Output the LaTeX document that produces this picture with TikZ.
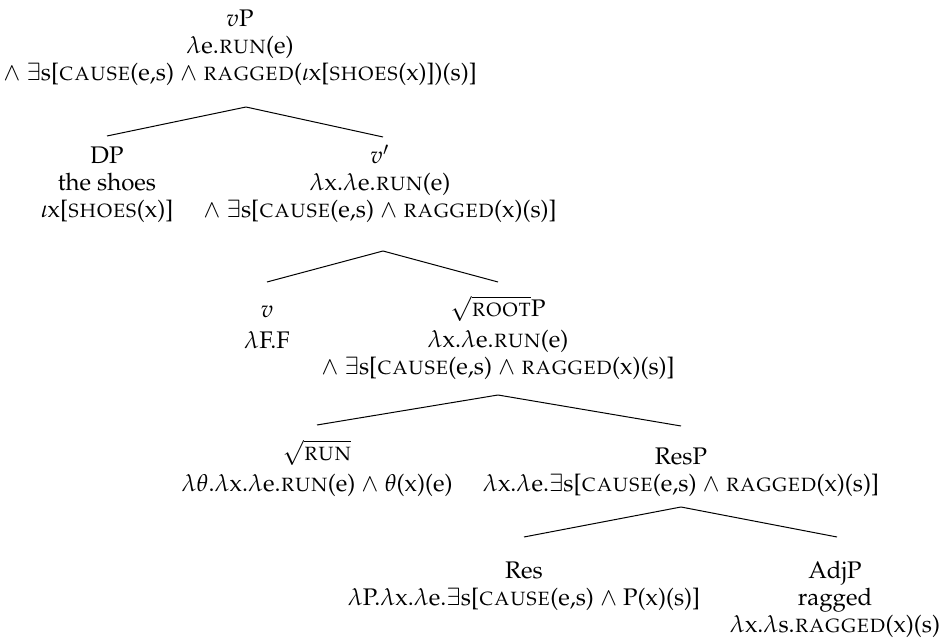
\documentclass[tikz,border=0pt]{standalone}
\usepackage[T1]{fontenc}
\usepackage{mathpazo}
\usetikzlibrary{calc}
\begin{document}
\begin{tikzpicture}[x=0.5pt,y=-0.5pt,
  lab/.style={inner sep=0pt,outer sep=0pt,align=center,anchor=base,
    font=\fontsize{12pt}{13.5pt}\selectfont},
  branch/.style={line width=0.5pt}]
\useasboundingbox (0,0) rectangle (944,640);
% nodes (anchored at the baseline of their last line)
\node[lab] (vP) at (240,81) {$v$P\\ $\lambda$e.\textsc{run}(e)\\ $\wedge$ $\exists$s[\textsc{cause}(e,s) $\wedge$ \textsc{ragged}($\iota$x[\textsc{shoes}(x)])(s)]};
\node[lab] (DP) at (107,218) {DP\\ the shoes\\ $\iota$x[\textsc{shoes}(x)]};
\node[lab] (vbar) at (380,218) {$v'$\\ $\lambda$x.$\lambda$e.\textsc{run}(e)\\ $\wedge$ $\exists$s[\textsc{cause}(e,s) $\wedge$ \textsc{ragged}(x)(s)]};
\node[lab] (v) at (267,349) {$v$\\[2pt] $\lambda$F.F};
\node[lab] (rootP) at (498,375) {$\sqrt{\textsc{root}}$P\\[2pt] $\lambda$x.$\lambda$e.\textsc{run}(e)\\ $\wedge$ $\exists$s[\textsc{cause}(e,s) $\wedge$ \textsc{ragged}(x)(s)]};
\node[lab] (run) at (317,492) {$\sqrt{\textsc{run}}$\\[2pt] $\lambda\theta$.$\lambda$x.$\lambda$e.\textsc{run}(e) $\wedge$ $\theta$(x)(e)};
\node[lab] (ResP) at (681,492) {ResP\\ $\lambda$x.$\lambda$e.$\exists$s[\textsc{cause}(e,s) $\wedge$ \textsc{ragged}(x)(s)]};
\node[lab] (Res) at (524,606) {Res\\ $\lambda$P.$\lambda$x.$\lambda$e.$\exists$s[\textsc{cause}(e,s) $\wedge$ P(x)(s)]};
\node[lab] (AdjP) at (835,633) {AdjP\\ ragged\\ $\lambda$x.$\lambda$s.\textsc{ragged}(x)(s)};
% branches
\draw[branch] ([xshift=3pt]vP.base |- 0,107) -- (DP.base |- 0,136);
\draw[branch] ([xshift=3pt]vP.base |- 0,107) -- ([xshift=1.5pt]vbar.base |- 0,137);
\draw[branch] ([xshift=1.5pt]vbar.base |- 0,251) -- (v.base |- 0,282);
\draw[branch] ([xshift=1.5pt]vbar.base |- 0,251) -- (rootP.base |- 0,282);
\draw[branch] (rootP.base |- 0,395) -- (run.base |- 0,425);
\draw[branch] (rootP.base |- 0,395) -- (ResP.base |- 0,426);
\draw[branch] (ResP.base |- 0,507) -- (Res.base |- 0,537);
\draw[branch] (ResP.base |- 0,507) -- ([xshift=1pt]AdjP.base |- 0,537);
\end{tikzpicture}
\end{document}
